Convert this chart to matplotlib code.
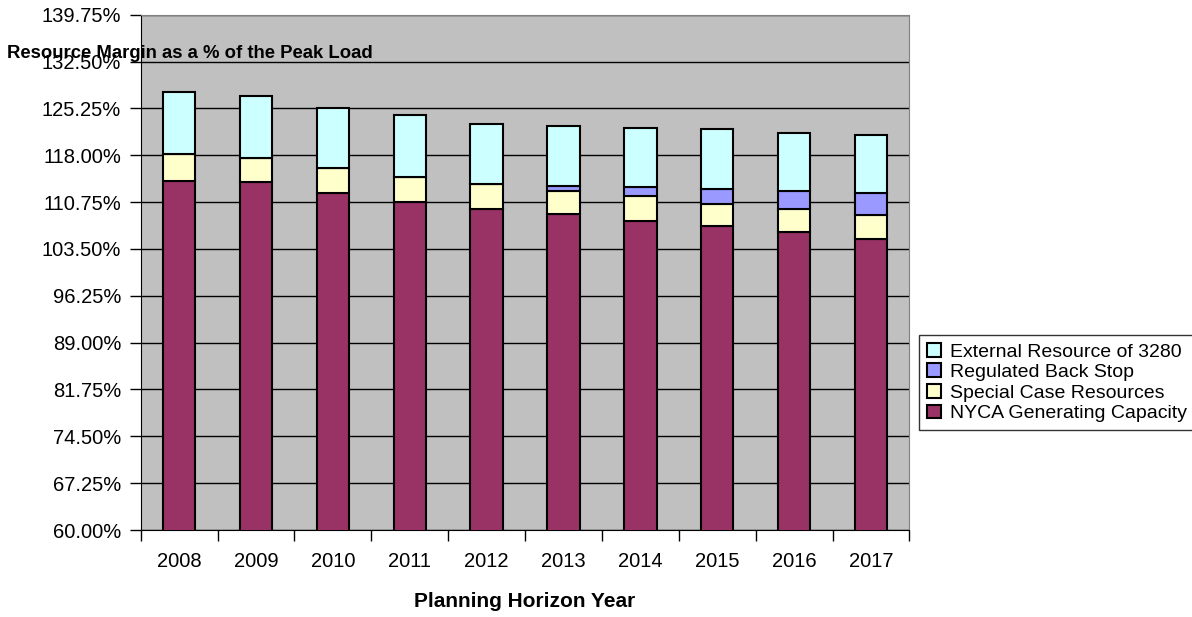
import numpy as np
import matplotlib.pyplot as plt
from matplotlib.ticker import FixedLocator, NullFormatter

plt.rcParams['font.family'] = ['Liberation Sans', 'DejaVu Sans']

years = ['2008', '2009', '2010', '2011', '2012', '2013', '2014', '2015', '2016', '2017']
nyca = [114.1, 113.8, 112.2, 110.8, 109.7, 108.9, 107.8, 107.0, 106.2, 105.1]
scr = [4.15, 3.8, 3.8, 3.8, 3.9, 3.6, 3.85, 3.5, 3.5, 3.6]
backstop = [0, 0, 0, 0, 0, 0.75, 1.4, 2.3, 2.8, 3.5]
external = [9.5, 9.6, 9.3, 9.6, 9.25, 9.35, 9.25, 9.2, 9.0, 9.0]
yticks = [60.0, 67.25, 74.5, 81.75, 89.0, 96.25, 103.5, 110.75, 118.0, 125.25, 132.5, 139.75]

fig = plt.figure(figsize=(11.92, 6.17), dpi=100)
ax = fig.add_axes([0.118, 0.141, 0.645, 0.835])
ax.set_facecolor('#C0C0C0')

x = np.arange(len(years))
w = 0.42
b1 = np.array(nyca)
b2 = b1 + np.array(scr)
b3 = b2 + np.array(backstop)

kw = dict(width=w, edgecolor='black', linewidth=1.5, zorder=3)
h1 = ax.bar(x, nyca, color='#993366', label='NYCA Generating Capacity', **kw)
h2 = ax.bar(x, scr, bottom=b1, color='#FFFFCC', label='Special Case Resources', **kw)
h3 = ax.bar(x, backstop, bottom=b2, color='#9999FF', label='Regulated Back Stop', **kw)
h4 = ax.bar(x, external, bottom=b3, color='#CCFFFF', label='External Resource of 3280', **kw)

ax.set_xlim(-0.5, len(years) - 0.5)
ax.set_ylim(60, 139.75)
ax.set_yticks(yticks)
ax.set_yticklabels(['%.2f%%' % v for v in yticks], fontsize=14.5)
ax.yaxis.grid(True, color='black', linewidth=1, zorder=0)
ax.set_axisbelow(True)

ax.set_xticks(x)
ax.set_xticklabels(years, fontsize=14.5)
ax.tick_params(axis='x', which='major', length=0, pad=16)
ax.xaxis.set_minor_locator(FixedLocator(np.arange(-0.5, len(years), 1)))
ax.xaxis.set_minor_formatter(NullFormatter())
ax.tick_params(axis='x', which='minor', length=8, width=1)
ax.tick_params(axis='y', length=8, width=1, pad=6)

for s in ['top', 'right']:
    ax.spines[s].set_color('#808080')
for s in ['left', 'bottom']:
    ax.spines[s].set_color('black')

ax.set_xlabel('Planning Horizon Year', fontsize=15, fontweight='bold', labelpad=15)
fig.text(0.006, 0.914, 'Resource Margin as a % of the Peak Load', fontsize=13.3,
         fontweight='bold', va='center', ha='left')

leg = fig.legend(handles=[h4, h3, h2, h1], loc='center left',
                 bbox_to_anchor=(0.763, 0.38), fontsize=14, frameon=True,
                 fancybox=False, edgecolor='black', handlelength=0.7,
                 handleheight=0.7, handletextpad=0.5, borderpad=0.4,
                 labelspacing=0.15)
leg.get_frame().set_linewidth(1)

fig.savefig('out.png', dpi=100)
